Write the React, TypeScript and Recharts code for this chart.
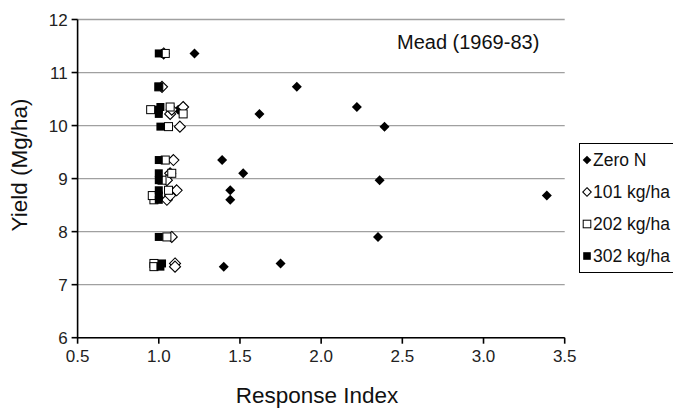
import React from 'react';
import { ScatterChart, Scatter, XAxis, YAxis, CartesianGrid } from 'recharts';

// one row per season (1969-83); every treatment shares the season's yield
const yieldRows = [11.36, 10.73, 10.35, 10.22, 10.3, 9.98, 9.35, 9.1, 8.97, 8.78, 8.6, 7.9, 7.4, 8.68, 7.34];
const zeroN = [1.22, 1.85, 2.22, 1.62, 1.12, 2.39, 1.39, 1.52, 2.36, 1.44, 1.44, 2.35, 1.75, 3.39, 1.4];
const n101 = [1.03, 1.02, 1.15, 1.07, 1.08, 1.13, 1.09, 1.07, 1.05, 1.11, 1.05, 1.08, 1.1, 1.07, 1.1];
const n202 = [1.04, 1.0, 1.07, 1.15, 0.95, 1.06, 1.04, 1.08, 1.02, 1.06, 0.97, 1.05, 0.97, 0.96, 0.97];
const n302 = [1.0, 1.0, 1.01, 1.0, 1.0, 1.01, 1.0, 1.0, 1.0, 1.0, 1.0, 1.0, 1.02, 1.0, 1.01];

const xTicks = [0.5, 1.0, 1.5, 2.0, 2.5, 3.0, 3.5];
const yTicks = [6, 7, 8, 9, 10, 11, 12];

const FONT = '"Liberation Sans", Arial, Helvetica, sans-serif';

const toPoints = (xs: number[]) => xs.map((x, i) => ({ x, y: yieldRows[i] }));

const FilledDiamond = ({ cx, cy, s = 5 }: any) => (
  <polygon points={`${cx},${cy - s} ${cx + s},${cy} ${cx},${cy + s} ${cx - s},${cy}`} fill="#000" />
);
const OpenDiamond = ({ cx, cy, s = 5.5 }: any) => (
  <polygon
    points={`${cx},${cy - s} ${cx + s},${cy} ${cx},${cy + s} ${cx - s},${cy}`}
    fill="#fff"
    stroke="#000"
    strokeWidth={1.1}
  />
);
const OpenSquare = ({ cx, cy, s = 4 }: any) => (
  <rect x={cx - s} y={cy - s} width={2 * s} height={2 * s} fill="#fff" stroke="#000" strokeWidth={1} />
);
const FilledSquare = ({ cx, cy, s = 4 }: any) => (
  <rect x={cx - s} y={cy - s} width={2 * s} height={2 * s} fill="#000" />
);

const series = [
  { name: 'Zero N', data: toPoints(zeroN), Shape: FilledDiamond },
  { name: '101 kg/ha', data: toPoints(n101), Shape: OpenDiamond },
  { name: '202 kg/ha', data: toPoints(n202), Shape: OpenSquare },
  { name: '302 kg/ha', data: toPoints(n302), Shape: FilledSquare },
];

function LegendBox() {
  return (
    <div
      style={{
        position: 'absolute',
        left: 571,
        top: 135,
        width: 120,
        height: 128,
        border: '1px solid #000',
        background: '#fff',
        padding: '0 0 0 2px',
        fontSize: 17.5,
        color: '#111',
        boxSizing: 'content-box',
      }}
    >
      {series.map(({ name, Shape }) => (
        <div key={name} style={{ display: 'flex', alignItems: 'center', height: 32, whiteSpace: 'nowrap' }}>
          <svg width={10} height={12} style={{ marginRight: 1 }}>
            <Shape cx={5} cy={6} s={name === 'Zero N' || name === '101 kg/ha' ? 4.3 : 3.8} />
          </svg>
          <span>{name}</span>
        </div>
      ))}
    </div>
  );
}

export default function App() {
  return (
    <div style={{ position: 'relative', width: 673, height: 400, fontFamily: FONT }}>
      <ScatterChart
        width={673}
        height={400}
        margin={{ top: 11.5, right: 116.3, bottom: 30.3, left: 29.6 }}
      >
        <CartesianGrid horizontal vertical={false} stroke="#a0a0a0" strokeWidth={1.3} />
        <XAxis
          type="number"
          dataKey="x"
          domain={[0.5, 3.5]}
          ticks={xTicks}
          tickFormatter={(v: number) => v.toFixed(1)}
          height={40}
          stroke="#000"
          strokeWidth={1.6}
          tickSize={6}
          tickMargin={6}
          tick={{ fill: '#222', fontSize: 17, fontFamily: FONT }}
          allowDataOverflow
        />
        <YAxis
          type="number"
          dataKey="y"
          domain={[6, 12]}
          ticks={yTicks}
          width={40}
          stroke="#000"
          strokeWidth={1.6}
          tickSize={6}
          tickMargin={4}
          tick={{ fill: '#222', fontSize: 17, fontFamily: FONT }}
          allowDataOverflow
        />
        {series.map(({ name, data, Shape }) => (
          <Scatter
            key={name}
            name={name}
            data={data}
            isAnimationActive={false}
            shape={(p: any) => <Shape cx={p.cx} cy={p.cy} />}
          />
        ))}
      </ScatterChart>
      <LegendBox />
      <div
        style={{
          position: 'absolute',
          left: 389,
          top: 23,
          fontSize: 20,
          color: '#111',
          whiteSpace: 'nowrap',
        }}
      >
        Mead (1969-83)
      </div>
      <div
        style={{
          position: 'absolute',
          left: 12,
          top: 157,
          transform: 'translate(-50%, -50%) rotate(-90deg)',
          fontSize: 22.5,
          color: '#111',
          whiteSpace: 'nowrap',
        }}
      >
        Yield (Mg/ha)
      </div>
      <div
        style={{
          position: 'absolute',
          left: 309,
          top: 388,
          transform: 'translate(-50%, -50%)',
          fontSize: 22.5,
          color: '#111',
          whiteSpace: 'nowrap',
        }}
      >
        Response Index
      </div>
    </div>
  );
}
